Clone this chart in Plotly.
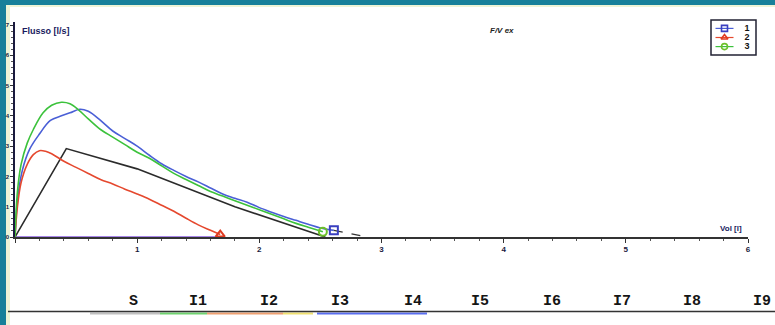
import plotly.graph_objects as go

# ---------------- data ----------------
series_names = ["1", "2", "3"]

blue_vol = [0, 0.02, 0.06, 0.12, 0.2, 0.29, 0.38, 0.45, 0.53, 0.6, 0.7, 0.8, 0.9, 1.0,
            1.1, 1.2, 1.3, 1.4, 1.5, 1.6, 1.7, 1.8, 1.9, 2.0, 2.1, 2.2, 2.3, 2.4, 2.5, 2.61]
blue_flow = [0, 1.2, 2.2, 2.9, 3.4, 3.85, 4.0, 4.1, 4.22, 4.15, 3.85, 3.5, 3.25, 3.0,
             2.7, 2.42, 2.2, 2.0, 1.82, 1.62, 1.42, 1.28, 1.15, 0.97, 0.82, 0.68, 0.55, 0.42, 0.3, 0.22]
blue_tail_vol = [2.61, 2.88]
blue_tail_flow = [0.22, 0.0]

red_vol = [0, 0.02, 0.05, 0.1, 0.15, 0.2, 0.25, 0.3, 0.4, 0.5, 0.6, 0.7, 0.8, 0.9, 1.0,
           1.1, 1.2, 1.3, 1.4, 1.5, 1.6, 1.68]
red_flow = [0, 1.0, 1.8, 2.4, 2.72, 2.85, 2.83, 2.75, 2.5, 2.3, 2.1, 1.9, 1.75, 1.58, 1.42,
            1.25, 1.05, 0.85, 0.62, 0.4, 0.22, 0.08]

green_vol = [0, 0.02, 0.05, 0.1, 0.15, 0.23, 0.3, 0.38, 0.45, 0.52, 0.6, 0.7, 0.8, 0.9, 1.0,
             1.1, 1.2, 1.3, 1.4, 1.5, 1.6, 1.7, 1.8, 1.9, 2.0, 2.1, 2.2, 2.3, 2.4, 2.52]
green_flow = [0, 1.5, 2.4, 3.1, 3.55, 4.1, 4.35, 4.45, 4.4, 4.2, 3.9, 3.55, 3.3, 3.05, 2.8,
              2.6, 2.35, 2.1, 1.9, 1.7, 1.5, 1.35, 1.2, 1.05, 0.9, 0.75, 0.6, 0.45, 0.32, 0.17]

pred_vol = [0, 0.42, 1.0, 1.8, 2.54]
pred_flow = [0, 2.92, 2.25, 1.0, 0]

base_vol = [0, 1.65]
base_flow = [0, 0]

x_ticks = [0, 1, 2, 3, 4, 5, 6]
x_tick_labels = ["", "1", "2", "3", "4", "5", "6"]
y_ticks = [0, 1, 2, 3, 4, 5, 6, 7]

bottom_labels = ["S", "I1", "I2", "I3", "I4", "I5", "I6", "I7", "I8", "I9"]

# ---------------- styles ----------------
series_colors = ["#4a5fd6", "#e5482e", "#3cc23c"]
marker_colors = ["#3a3fc0", "#e03a20", "#6cc02a"]
marker_symbols = ["square-open", "triangle-up-open", "circle-open"]

# ---------------- layout helpers ----------------
W_PX, H_PX = 775, 325
L, R, T, B = 15, 27, 22, 88
PW, PH = W_PX - L - R, H_PX - T - B


def px_x(x):
    return (x - L) / PW


def px_y(y):
    return (H_PX - B - y) / PH


LEG_X0, LEG_X1, LEG_Y0, LEG_Y1 = 711, 756, 20, 55
PLOT_RIGHT = W_PX - R

fig = go.Figure()

fig.add_trace(go.Scatter(x=base_vol, y=base_flow, mode="lines",
                         line=dict(color="#8a5ce0", width=1.6), showlegend=False, hoverinfo="skip"))
fig.add_trace(go.Scatter(x=pred_vol, y=pred_flow, mode="lines",
                         line=dict(color="#2b2b2b", width=1.6), showlegend=False))

curves = [(blue_vol, blue_flow), (red_vol, red_flow), (green_vol, green_flow)]
for (vx, vy), col in zip(curves, series_colors):
    fig.add_trace(go.Scatter(x=vx, y=vy, mode="lines",
                             line=dict(color=col, width=1.6, shape="spline"), showlegend=False))
fig.add_trace(go.Scatter(x=blue_tail_vol, y=blue_tail_flow, mode="lines",
                         line=dict(color="#333333", width=1.2, dash="dash"), showlegend=False))
# end markers
for (vx, vy), mc, ms in zip(curves, marker_colors, marker_symbols):
    fig.add_trace(go.Scatter(x=[vx[-1]], y=[vy[-1]], mode="markers", showlegend=False,
                             marker=dict(symbol=ms, size=8, color=mc, line=dict(width=2))))

# custom compact legend drawn in a tiny helper subplot
leg_rows = [0.76, 0.5, 0.24]
for name, col, mc, ms, ry in zip(series_names, series_colors, marker_colors, marker_symbols, leg_rows):
    fig.add_trace(go.Scatter(x=[0.1, 0.5], y=[ry, ry], mode="lines", xaxis="x2", yaxis="y2",
                             line=dict(color=col, width=1.2), showlegend=False, hoverinfo="skip"))
    fig.add_trace(go.Scatter(x=[0.3], y=[ry], mode="markers", xaxis="x2", yaxis="y2",
                             marker=dict(symbol=ms, size=6, color=mc, line=dict(width=1.6)),
                             showlegend=False, hoverinfo="skip"))
    fig.add_trace(go.Scatter(x=[0.8], y=[ry], mode="text", text=[name], xaxis="x2", yaxis="y2",
                             textfont=dict(family="Liberation Sans", size=9, color="#111111", weight=700),
                             showlegend=False, hoverinfo="skip", cliponaxis=False))

shapes = []
# teal frame (left and top) with pale inner edge
shapes.append(dict(type="rect", xref="paper", yref="paper", x0=px_x(6), x1=px_x(10), y0=px_y(325), y1=px_y(5),
                   fillcolor="#eef4d6", line=dict(width=0), layer="below"))
shapes.append(dict(type="rect", xref="paper", yref="paper", x0=px_x(6), x1=px_x(775), y0=px_y(7), y1=px_y(5),
                   fillcolor="#eef4d6", line=dict(width=0), layer="below"))
shapes.append(dict(type="rect", xref="paper", yref="paper", x0=px_x(0), x1=px_x(6), y0=px_y(325), y1=px_y(0),
                   fillcolor="#17809a", line=dict(width=0), layer="below"))
shapes.append(dict(type="rect", xref="paper", yref="paper", x0=px_x(0), x1=px_x(775), y0=px_y(5), y1=px_y(0),
                   fillcolor="#17809a", line=dict(width=0), layer="below"))
# legend box
shapes.append(dict(type="rect", xref="paper", yref="paper", x0=px_x(LEG_X0), x1=px_x(LEG_X1),
                   y0=px_y(LEG_Y1), y1=px_y(LEG_Y0),
                   line=dict(color="#222233", width=1.5), fillcolor="rgba(0,0,0,0)"))
# bottom rule with coloured segments
for c, a, b in [("#c0c0c0", 90, 160), ("#6fd36f", 160, 207), ("#f0a070", 207, 283),
                ("#f0e070", 283, 313), ("#5a6ef0", 317, 427)]:
    shapes.append(dict(type="line", xref="paper", yref="paper", x0=px_x(a), x1=px_x(b),
                       y0=px_y(313.5), y1=px_y(313.5), line=dict(color=c, width=2)))
shapes.append(dict(type="line", xref="paper", yref="paper", x0=px_x(8), x1=px_x(775),
                   y0=px_y(311.5), y1=px_y(311.5), line=dict(color="#333333", width=1.5)))

annotations = [
    dict(text="Flusso [l/s]", x=px_x(20), y=px_y(31), xanchor="left", yanchor="middle",
         font=dict(family="Liberation Sans", size=9, color="#1a1a5e", weight=700)),
    dict(text="<i>F/V ex</i>", x=px_x(488), y=px_y(31), xanchor="left", yanchor="middle",
         font=dict(family="Liberation Sans", size=8, color="#222222", weight=700)),
    dict(text="Vol [l]", x=px_x(744), y=px_y(228), xanchor="right", yanchor="middle",
         font=dict(family="Liberation Sans", size=8, color="#1a1a5e", weight=700)),
]
bottom_x = [133, 198, 269, 340, 413, 480, 552, 622, 692, 762]
for lab, bx in zip(bottom_labels, bottom_x):
    annotations.append(dict(text=lab, x=px_x(bx), y=px_y(301), xanchor="center", yanchor="middle",
                            font=dict(family="Liberation Mono", size=15, color="#151515", weight=700)))
for a in annotations:
    a.update(xref="paper", yref="paper", showarrow=False)

fig.update_layout(
    width=W_PX, height=H_PX,
    margin=dict(l=L, r=R, t=T, b=B, pad=0, autoexpand=False),
    paper_bgcolor="white", plot_bgcolor="white",
    showlegend=False,
    shapes=shapes, annotations=annotations,
    xaxis=dict(range=[0, 6], tickvals=x_ticks, ticktext=x_tick_labels, showgrid=False, zeroline=False,
               automargin=False,
               showline=True, linecolor="#333333", linewidth=1.5, layer="below traces",
               ticks="outside", ticklen=4, tickcolor="#333333", tickwidth=1.2,
               minor=dict(dtick=0.2, ticks="outside", ticklen=2, tickcolor="#555555"),
               tickfont=dict(family="Liberation Sans", size=8, color="#1a1a3e", weight=700)),
    yaxis=dict(range=[0, 7.1], tickvals=y_ticks, showgrid=False, zeroline=False,
               automargin=False,
               showline=True, linecolor="#1a1a3e", linewidth=1.5, layer="below traces",
               ticks="outside", ticklen=3, tickcolor="#333333",
               minor=dict(dtick=0.2, ticks="outside", ticklen=2, tickcolor="#555555"),
               tickfont=dict(family="Liberation Sans", size=6, color="#1a1a3e", weight=700)),
    xaxis2=dict(domain=[px_x(LEG_X0), 1.0], anchor="y2", automargin=False,
                range=[0, (PLOT_RIGHT - LEG_X0) / (LEG_X1 - LEG_X0)], visible=False, fixedrange=True),
    yaxis2=dict(domain=[px_y(LEG_Y1), 1.0], anchor="x2", automargin=False,
                range=[0, (LEG_Y1 - T) / (LEG_Y1 - LEG_Y0)], visible=False, fixedrange=True),
)

fig.write_html("out.html", config={"displayModeBar": False},
               post_script="document.body.style.margin='0';document.body.style.overflow='hidden';")
